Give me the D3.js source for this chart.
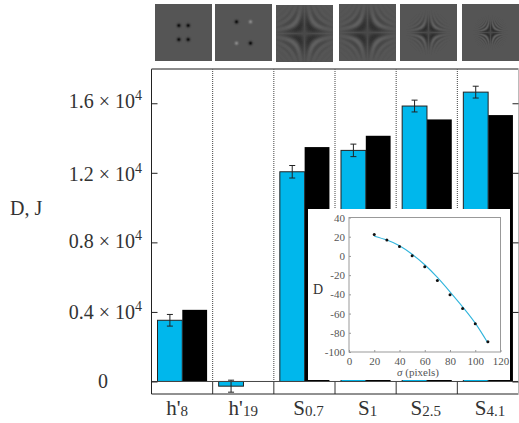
<!DOCTYPE html>
<html>
<head>
<meta charset="utf-8">
<script src="https://d3js.org/d3.v7.min.js"></script>
<style>
html, body { margin: 0; padding: 0; background: #fff; }
svg { display: block; }
text { font-family: "Liberation Serif", serif; fill: #333; }
</style>
</head>
<body>
<svg id="chart" width="519" height="423">
  <defs><filter id="soft"><feGaussianBlur stdDeviation="0.45"/></filter></defs>
</svg>
<script>
// bar chart data
var categories = ["h'|8", "h'|19", "S|0.7", "S|1", "S|2.5", "S|4.1"];
var measured = [3520, -270, 12060, 13290, 15840, 16640];
var measured_err = [335, 345, 360, 360, 340, 340];
var model = [4120, 0, 13480, 14130, 15070, 15320];
var y_ticks = [0, 4000, 8000, 12000, 16000];

// inset data
var inset_sigma = [20, 30, 40, 50, 60, 70, 80, 90, 100, 110];
var inset_points = [22.2, 16.7, 9.7, 0.3, -11.2, -25.5, -40.5, -54.8, -70.5, -89.3];
var inset_line = [20.5, 16.5, 10.5, 1.7, -9.2, -22.4, -37.4, -53, -70, -90.6];
var inset_x_ticks = [0, 20, 40, 60, 80, 100, 120];
var inset_y_ticks = [-100, -80, -60, -40, -20, 0, 20, 40];

// thumbnails above the groups
var thumbs = [
    {x: 155, y: 4, type: 'dots', offX: 4.7, offY: 7, light: false},
    {x: 215, y: 4, type: 'dots', offX: 7, offY: 10.7, light: true},
    {x: 276, y: 5, type: 'star', radius: 12, freq: 0.045},
    {x: 339, y: 4, type: 'star', radius: 11.5, freq: 0.05},
    {x: 400, y: 4, type: 'star', radius: 7.5, freq: 0.12},
    {x: 462, y: 4, type: 'star', radius: 6, freq: 0.25}
];

// small hand nudges, the labels in the picture do not sit evenly
var y_label_dy = {0: 6.5, 4000: 7, 8000: 5.5, 12000: 8, 16000: 4.5};
var cat_label_dx = [-5, 0, 4, 2, -1, 2];

var svg = d3.select("#chart");

var frame = {left: 151.5, right: 518.5, top: 69, bottom: 394};
var x = d3.scaleBand().domain(categories).range([frame.left, frame.right]);
var x_bar = d3.scaleBand().domain(['measured', 'model']).range([6, 55.6]);
var y = d3.scaleLinear().domain([-720, 17970]).range([frame.bottom, frame.top]);

//## thumbnails, painted pixel by pixel on a small canvas
function thumb_url(t) {
    var size = 57;
    var canvas = document.createElement('canvas');
    canvas.width = size;
    canvas.height = size;
    var ctx = canvas.getContext('2d');
    var img = ctx.createImageData(size, size);
    for (var j = 0; j < size; j++) {
        for (var i = 0; i < size; i++) {
            var dx = i - 28;
            var dy = j - 28;
            var v = 84;
            if (t.type == 'dots') {
                [[-1, -1], [1, -1], [-1, 1], [1, 1]].forEach(function(s) {
                    var d2 = Math.pow(dx - s[0] * t.offX, 2) + Math.pow(dy - s[1] * t.offY, 2);
                    var sign = (t.light && s[0] * s[1] < 0) ? 0.75 : -1;
                    v += sign * 70 * Math.exp(-d2 / 3.4);
                });
            } else {
                var r2 = dx * dx + dy * dy;
                var env = Math.exp(-r2 / (2 * t.radius * t.radius));
                // darker lobes between the axes, weak fringes further out
                v += -env * 46 * (0.25 + 0.75 * Math.sin(t.freq * Math.abs(dx * dy)));
            }
            var k = (i + j * size) * 4;
            img.data[k] = img.data[k + 1] = img.data[k + 2] = v;
            img.data[k + 3] = 255;
        }
    }
    ctx.putImageData(img, 0, 0);
    return canvas.toDataURL();
}

svg.selectAll("image.thumb")
    .data(thumbs)
    .enter().append("image")
    .attr("class", "thumb")
    .attr("x", function(d) { return d.x; })
    .attr("y", function(d) { return d.y; })
    .attr("width", 57)
    .attr("height", 57)
    .attr("filter", "url(#soft)")
    .attr("href", thumb_url);

//## group dividers
svg.selectAll("line.divider")
    .data(categories.slice(1))
    .enter().append("line")
    .attr("class", "divider")
    .attr("x1", function(d) { return x(d); })
    .attr("x2", function(d) { return x(d); })
    .attr("y1", frame.top)
    .attr("y2", y(0))
    .attr("stroke", "#444")
    .attr("stroke-width", 1)
    .attr("stroke-dasharray", "1,1");

svg.selectAll("line.divider_low")
    .data(categories.slice(1))
    .enter().append("line")
    .attr("class", "divider_low")
    .attr("x1", function(d) { return x(d); })
    .attr("x2", function(d) { return x(d); })
    .attr("y1", y(0))
    .attr("y2", frame.bottom)
    .attr("stroke", "#333")
    .attr("stroke-width", 1);

//## bars
var groups = svg.selectAll("g.group")
    .data(categories)
    .enter().append("g")
    .attr("class", "group")
    .attr("transform", function(d) { return "translate(" + x(d) + ",0)"; });

groups.append("rect")
    .attr("x", x_bar('model'))
    .attr("width", x_bar.bandwidth())
    .attr("y", function(d, i) { return y(model[i]); })
    .attr("height", function(d, i) { return y(0) - y(model[i]); })
    .attr("fill", "#000");

groups.append("rect")
    .attr("x", x_bar('measured'))
    .attr("width", x_bar.bandwidth())
    .attr("y", function(d, i) { return y(Math.max(measured[i], 0)); })
    .attr("height", function(d, i) { return Math.abs(y(measured[i]) - y(0)); })
    .attr("fill", "#00b7ec")
    .attr("stroke", "#222")
    .attr("stroke-width", 1);

//## error bars
var err_x = x_bar('measured') + x_bar.bandwidth() / 2;
groups.append("path")
    .attr("fill", "none")
    .attr("stroke", "#222")
    .attr("stroke-width", 1)
    .attr("d", function(d, i) {
        var y1 = y(measured[i] + measured_err[i]);
        var y2 = y(measured[i] - measured_err[i]);
        return "M" + (err_x - 3) + "," + y1 + "H" + (err_x + 3)
            + "M" + err_x + "," + y1 + "V" + y2
            + "M" + (err_x - 3) + "," + y2 + "H" + (err_x + 3);
    });

//## frame and axes
svg.append("line")
    .attr("x1", frame.left).attr("x2", frame.right)
    .attr("y1", y(0)).attr("y2", y(0))
    .attr("stroke", "#444");
svg.append("line")
    .attr("x1", frame.left).attr("x2", frame.left)
    .attr("y1", frame.top).attr("y2", frame.bottom)
    .attr("stroke", "#222");
svg.append("line")
    .attr("x1", frame.left).attr("x2", frame.right)
    .attr("y1", frame.bottom).attr("y2", frame.bottom)
    .attr("stroke", "#222");
svg.append("line")
    .attr("x1", frame.left).attr("x2", frame.right)
    .attr("y1", frame.top).attr("y2", frame.top)
    .attr("stroke", "#666")
    .attr("stroke-width", 1.5);
svg.append("line")
    .attr("x1", frame.right).attr("x2", frame.right)
    .attr("y1", frame.top).attr("y2", frame.bottom)
    .attr("stroke", "#bbb");

var y_axis = svg.append("g")
    .attr("transform", "translate(" + frame.left + ",0)")
    .call(d3.axisRight(y).tickValues(y_ticks).tickSize(6).tickFormat(""));
y_axis.select(".domain").remove();
y_axis.selectAll("line").attr("stroke", "#222");

var y_axis_r = svg.append("g")
    .attr("transform", "translate(" + frame.right + ",0)")
    .call(d3.axisLeft(y).tickValues(y_ticks).tickSize(6).tickFormat(""));
y_axis_r.select(".domain").remove();
y_axis_r.selectAll("line").attr("stroke", "#222");

//## y labels like 1.6 x 10^4
var y_labels = svg.selectAll("text.ylab")
    .data(y_ticks)
    .enter().append("text")
    .attr("class", "ylab")
    .attr("x", function(d) { return d == 0 ? 108 : 142; })
    .attr("y", function(d) { return y(d) + y_label_dy[d]; })
    .attr("text-anchor", "end")
    .style("font-size", "20px");
y_labels.each(function(d) {
    var t = d3.select(this);
    if (d == 0) {
        t.text("0");
        return;
    }
    t.append("tspan").text((d / 10000).toFixed(1));
    t.append("tspan").attr("dx", 5).text("\u00d7");
    t.append("tspan").attr("dx", 5).text("10");
    t.append("tspan").attr("dy", -8).style("font-size", "14px").text("4");
});

svg.append("text")
    .attr("x", 10)
    .attr("y", 215)
    .style("font-size", "20px")
    .text("D, J");

//## category labels with subscript
var cat_labels = svg.selectAll("text.cat")
    .data(categories)
    .enter().append("text")
    .attr("class", "cat")
    .attr("x", function(d, i) { return x(d) + x.bandwidth() / 2 + cat_label_dx[i]; })
    .attr("y", 415)
    .attr("text-anchor", "middle");
cat_labels.append("tspan")
    .style("font-size", "21px")
    .text(function(d) { return d.split('|')[0]; });
cat_labels.append("tspan")
    .attr("dy", 1)
    .style("font-size", "15px")
    .text(function(d) { return d.split('|')[1]; });

//## inset
var inset = svg.append("g");
inset.append("rect")
    .attr("x", 308).attr("y", 209)
    .attr("width", 202).attr("height", 171)
    .attr("fill", "#fff");

var ix = d3.scaleLinear().domain([0, 120]).range([349, 500.5]);
var iy = d3.scaleLinear().domain([-100, 40]).range([352, 217.5]);

inset.append("rect")
    .attr("x", ix(0)).attr("y", iy(40))
    .attr("width", ix(120) - ix(0))
    .attr("height", iy(-100) - iy(40))
    .attr("fill", "none")
    .attr("stroke", "#999");

var ix_axis = inset.append("g")
    .attr("transform", "translate(0," + iy(-100) + ")")
    .call(d3.axisBottom(ix).tickValues(inset_x_ticks).tickSize(-2).tickPadding(5)
        .tickFormat(function(d) { return String(d); }));
var iy_axis = inset.append("g")
    .attr("transform", "translate(" + ix(0) + ",0)")
    .call(d3.axisLeft(iy).tickValues(inset_y_ticks).tickSize(-2).tickPadding(4)
        .tickFormat(function(d) { return String(d); }));
[ix_axis, iy_axis].forEach(function(a) {
    a.select(".domain").remove();
    a.selectAll("line").attr("stroke", "#999");
    a.selectAll("text")
        .style("font-family", '"Liberation Serif", serif')
        .style("font-size", "11px")
        .style("fill", "#555");
});

var line = d3.line()
    .x(function(d, i) { return ix(inset_sigma[i]); })
    .y(function(d) { return iy(d); })
    .curve(d3.curveNatural);
inset.append("path")
    .datum(inset_line)
    .attr("d", line)
    .attr("fill", "none")
    .attr("stroke", "#2fb4dc")
    .attr("stroke-width", 1.1);

inset.selectAll("circle")
    .data(inset_points)
    .enter().append("circle")
    .attr("cx", function(d, i) { return ix(inset_sigma[i]); })
    .attr("cy", function(d) { return iy(d); })
    .attr("r", 1.5)
    .attr("fill", "#111");

inset.append("text")
    .attr("x", 318).attr("y", 294)
    .attr("text-anchor", "middle")
    .style("font-size", "14px")
    .text("D");

var ix_label = inset.append("text")
    .attr("x", 418).attr("y", 376)
    .attr("text-anchor", "middle")
    .style("font-size", "11px")
    .style("fill", "#555");
ix_label.append("tspan").style("font-style", "italic").text("\u03c3");
ix_label.append("tspan").text(" (pixels)");
</script>
</body>
</html>
